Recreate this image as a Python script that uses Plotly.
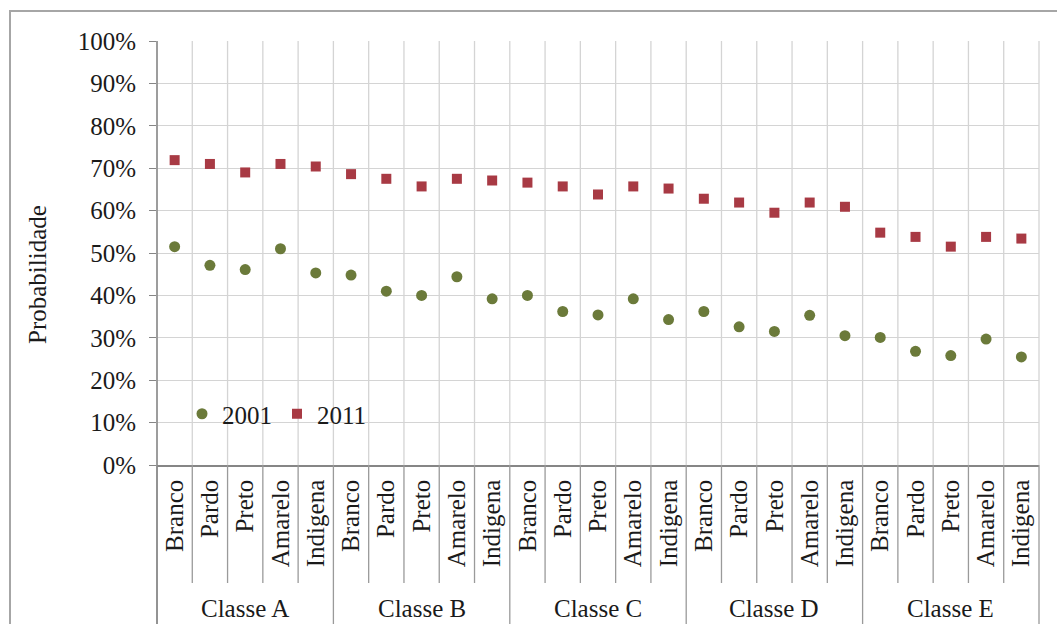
import plotly.graph_objects as go

# Probability by social class and colour/race, 2001 vs 2011
classes = ["Classe A", "Classe B", "Classe C", "Classe D", "Classe E"]
races = ["Branco", "Pardo", "Preto", "Amarelo", "Indigena"]

prob_2001 = [51.5, 47.1, 46.1, 51.0, 45.3,
             44.8, 41.0, 40.0, 44.4, 39.2,
             40.0, 36.2, 35.4, 39.2, 34.3,
             36.2, 32.6, 31.5, 35.3, 30.5,
             30.1, 26.8, 25.8, 29.7, 25.5]
prob_2011 = [71.9, 71.0, 69.0, 71.0, 70.4,
             68.6, 67.5, 65.7, 67.5, 67.1,
             66.6, 65.7, 63.8, 65.7, 65.2,
             62.8, 61.9, 59.5, 61.9, 60.9,
             54.8, 53.8, 51.5, 53.8, 53.4]
y_ticks = list(range(0, 101, 10))

# Page geometry (px)
W, H = 1057, 624
ML, MR, MT, MB = 157, 18, 41, 159
PW, PH = W - ML - MR, H - MT - MB

def px_x(px):
    return (px - ML) / PW

def px_y(py):
    return (H - MB - py) / PH

FONT = "Liberation Serif"
FS = 25
GRID = "#D4D4D4"
SEP = "#9A9A9A"
AXIS = "#868686"

labels = [r for _ in classes for r in races]
n = len(labels)
xs = list(range(n))

fig = go.Figure()
fig.add_trace(go.Scatter(
    x=xs, y=prob_2001, mode="markers", name="2001",
    marker=dict(symbol="circle", size=11, color="#6B7A3A"),
))
fig.add_trace(go.Scatter(
    x=xs, y=prob_2011, mode="markers", name="2011",
    marker=dict(symbol="square", size=10, color="#A83A44"),
))

shapes = []
# vertical separators: grid inside the plot, dividers in the label band
for k in range(n + 1):
    xp = k / n
    shapes.append(dict(type="line", xref="paper", yref="paper",
                       x0=xp, x1=xp, y0=0, y1=1,
                       line=dict(color=GRID, width=1.3), layer="below"))
    bottom = px_y(H + 2) if k % len(races) == 0 else px_y(583)
    shapes.append(dict(type="line", xref="paper", yref="paper",
                       x0=xp, x1=xp, y0=0, y1=bottom,
                       line=dict(color=SEP, width=1.3)))
# left axis line running through the label band
shapes.append(dict(type="line", xref="paper", yref="paper",
                   x0=0, x1=0, y0=1, y1=px_y(H + 2),
                   line=dict(color=AXIS, width=1.5)))
# outer chart frame
shapes.append(dict(type="rect", xref="paper", yref="paper",
                   x0=px_x(10), x1=px_x(W + 5), y0=px_y(11), y1=px_y(H + 5),
                   line=dict(color="#A6A6A6", width=2)))

annotations = []
for ci, cname in enumerate(classes):
    center = ci * len(races) + (len(races) - 1) / 2
    annotations.append(dict(x=center, xref="x", y=px_y(608), yref="paper",
                            text=cname, showarrow=False,
                            font=dict(family=FONT, size=FS, color="#1a1a1a"),
                            xanchor="center", yanchor="middle"))
annotations.append(dict(x=px_x(37), xref="paper", y=px_y(274), yref="paper",
                        text="Probabilidade", textangle=-90, showarrow=False,
                        font=dict(family=FONT, size=FS, color="#1a1a1a"),
                        xanchor="center", yanchor="middle"))

fig.update_layout(
    width=W, height=H,
    margin=dict(l=ML, r=MR, t=MT, b=MB),
    paper_bgcolor="white", plot_bgcolor="white",
    font=dict(family=FONT, size=FS, color="#1a1a1a"),
    showlegend=True,
    legend=dict(orientation="h", x=px_x(182), y=px_y(391),
                xanchor="left", yanchor="top",
                bgcolor="rgba(0,0,0,0)", font=dict(family=FONT, size=FS),
                itemwidth=30, tracegroupgap=0),
    xaxis=dict(range=[-0.5, n - 0.5], tickmode="array", tickvals=xs,
               ticktext=labels, tickangle=-90, showgrid=False,
               zeroline=False, showline=True, linecolor=AXIS, linewidth=1.5,
               ticks="", ticklabelstandoff=3,
               tickfont=dict(family=FONT, size=FS)),
    yaxis=dict(range=[0, 100], tickmode="array", tickvals=y_ticks,
               ticktext=[f"{v}%" for v in y_ticks],
               showgrid=True, gridcolor=GRID, gridwidth=1.3,
               zeroline=False, showline=False,
               ticks="outside", ticklen=7, tickcolor=AXIS, tickwidth=1.3,
               ticklabelstandoff=8,
               tickfont=dict(family=FONT, size=FS)),
    shapes=shapes,
    annotations=annotations,
)

fig.write_html("out.html")
